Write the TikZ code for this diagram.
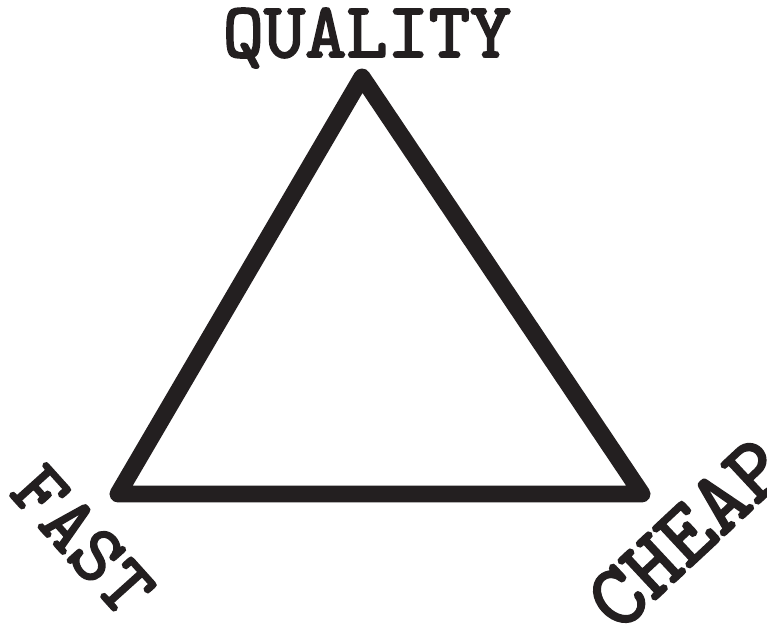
\documentclass[tikz,border=0pt]{standalone}
\usepackage{fontspec}
\newfontfamily\typeface[FakeBold=2.5]{lmmono10-regular.otf}
\usepackage{tikz}
\usetikzlibrary{positioning}
\definecolor{inkblack}{RGB}{35,31,32}
\tikzstyle{side} = [line width=14.5pt,line join=round,line cap=round,draw=inkblack]
\tikzstyle{corner} = [font=\typeface\fontsize{67}{67}\selectfont,text=inkblack,inner sep=0pt]

\begin{document}
\begin{tikzpicture}[x=0.03cm, y=-0.03cm]

% Page frame
\useasboundingbox (0,0) rectangle (767,628);

% Triangle corners
\coordinate (quality) at (362,77);
\coordinate (fast) at (118,494);
\coordinate (cheap) at (642,494);

% Triangle
\draw[side] (fast) -- (quality) -- (cheap) -- cycle;

% Labels
\node[corner, anchor=base] (lquality) at (367,57) {QUALITY};
\node[corner, rotate=-48, font=\typeface\fontsize{69}{69}\selectfont] (lfast) at (83,540) {FAST};
\node[corner, rotate=43, font=\typeface\fontsize{76}{76}\selectfont] (lcheap) at (686,534) {CHEAP};

\end{tikzpicture}
\end{document}
